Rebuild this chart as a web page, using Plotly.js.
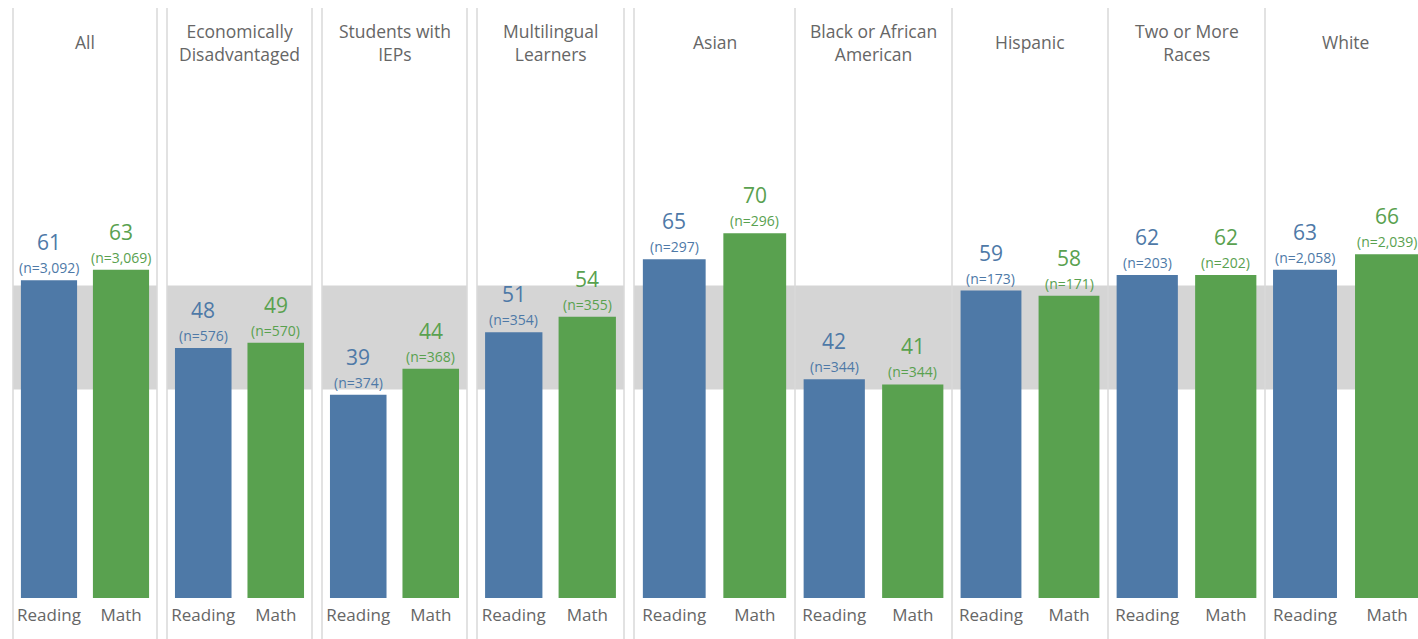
<!DOCTYPE html>
<html>
<head>
<meta charset="utf-8">
<script src="https://cdn.plot.ly/plotly-3.0.1.min.js"></script>
<style>html,body{margin:0;padding:0;background:#fff;}#chart{width:1418px;height:639px;}</style>
</head>
<body>
<div id="chart"></div>
<script>
// ---- data ----
const groups = ["All", "Economically<br>Disadvantaged", "Students with<br>IEPs", "Multilingual<br>Learners", "Asian", "Black or African<br>American", "Hispanic", "Two or More<br>Races", "White"];
const subjects = ["Reading", "Math"];
const readingScores = [61, 48, 39, 51, 65, 42, 59, 62, 63];
const mathScores = [63, 49, 44, 54, 70, 41, 58, 62, 66];
const readingN = ["3,092", "576", "374", "354", "297", "344", "173", "203", "2,058"];
const mathN = ["3,069", "570", "368", "355", "296", "344", "171", "202", "2,039"];
const bandLow = 40, bandHigh = 60;

// ---- layout helpers (pixel geometry) ----
const W = 1418, H = 639;
const panels = [[13,157],[167,312],[322,467],[477,624],[634,795],[795,952],[952,1108],[1108,1265],[1265,1418]];
const separators = [13,157,167,312,322,467,477,624,634,795,952,1108,1265];
const blue = "#4e79a7", green = "#59a14f", gray = "#666666";
const fontFam = "'Open Sans', 'Noto Sans', sans-serif";
const pxPerUnit = 5.21, baseY = 598, topY = 8;

const data = [];
const layout = {
  width: W, height: H,
  margin: {l:0, r:0, t:0, b:0},
  paper_bgcolor: "#fff", plot_bgcolor: "rgba(0,0,0,0)",
  showlegend: false,
  font: {family: fontFam, color: gray},
  yaxis: {domain: [1 - baseY/H, 1 - topY/H], range: [0, (baseY-topY)/pxPerUnit], visible: false, fixedrange: true},
  annotations: [], shapes: []
};

groups.forEach((g, i) => {
  const ax = i === 0 ? "x" : "x" + (i+1);
  const axKey = i === 0 ? "xaxis" : "xaxis" + (i+1);
  const [a, b] = panels[i];
  let range = [-0.5, 1.5];
  if (i === groups.length - 1) range = [-0.488, 1.378];
  layout[axKey] = {
    domain: [a/W, b/W], range: range, anchor: "y",
    type: "category", showgrid: false, zeroline: false, showline: false, ticks: "",
    ticklabelstandoff: 5,
    tickfont: {size: 17, color: gray, family: fontFam}, fixedrange: true
  };
  data.push({
    type: "bar", x: subjects, y: [readingScores[i], mathScores[i]],
    xaxis: ax, yaxis: "y", width: 0.78,
    marker: {color: [blue, green]}, hoverinfo: "skip"
  });
  // band
  layout.shapes.push({type: "rect", xref: ax + " domain", yref: "y", x0: 0, x1: 1, y0: bandLow, y1: bandHigh,
    fillcolor: "#d5d5d5", line: {width: 0}, layer: "below"});
  // labels
  const vals = [readingScores[i], mathScores[i]];
  const ns = [readingN[i], mathN[i]];
  const cols = [blue, green];
  subjects.forEach((s, j) => {
    layout.annotations.push({xref: ax, yref: "y", x: s, y: vals[j], text: String(vals[j]),
      showarrow: false, yanchor: "bottom", yshift: 22, font: {size: 21, color: cols[j], family: fontFam}});
    layout.annotations.push({xref: ax, yref: "y", x: s, y: vals[j], text: "(n=" + ns[j] + ")",
      showarrow: false, yanchor: "bottom", yshift: 1, font: {size: 14, color: cols[j], family: fontFam}});
  });
  // title
  const cx = (i === groups.length - 1) ? 1345 : (a + b) / 2;
  layout.annotations.push({xref: "paper", yref: "paper", x: cx / W, y: 1 - 42.5 / H, text: g,
    showarrow: false, xanchor: "center", yanchor: "middle", align: "center",
    font: {size: 17.5, color: gray, family: fontFam}});
});

separators.forEach(px => {
  layout.shapes.push({type: "line", xref: "paper", yref: "paper", x0: px/W, x1: px/W, y0: 0, y1: 1 - topY/H,
    line: {color: "#d9d9d9", width: 1.5}});
});

Plotly.newPlot("chart", data, layout, {displayModeBar: false, staticPlot: true});
</script>
</body>
</html>
